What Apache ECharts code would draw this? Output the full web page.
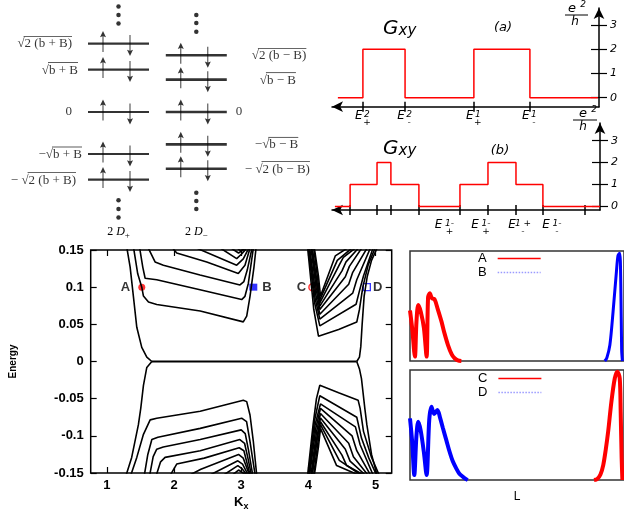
<!DOCTYPE html>
<html>
<head>
<meta charset="utf-8">
<script src="https://cdn.jsdelivr.net/npm/echarts@6.0.0/dist/echarts.min.js"></script>
<style>
  html, body { margin: 0; padding: 0; background: #fff; }
  #chart { width: 624px; height: 512px; }
</style>
</head>
<body>
<div id="chart"></div>
<script>
// ---- top left: Landau levels at the two Dirac points ----
const columns = ['2 D+', '2 D−']
const levelPlus = [1.63, 1.01, 0, -1.0, -1.61]
const levelMinus = [1.35, 0.77, 0, -0.77, -1.35]
const labelPlus = ['√2 (b + B)', '√b + B', '0', '−√b + B', '− √2 (b + B)']
const labelMinus = ['√2 (b − B)', '√b − B', '0', '−√b − B', '− √2 (b − B)']
const dotsPlus = [2.51, 2.31, 2.11, -2.10, -2.31, -2.51]
const dotsMinus = [2.31, 2.12, 1.91, -1.92, -2.12, -2.31]

// ---- top right: Gxy steps ----
const gxyAx = [0.40, 1.32, 2.87, 5.40, 7.46, 9.96]
const gxyAy = [0, 2, 0, 2, 0, 0]
const tickA = [1.32, 2.87, 5.40, 7.46]
const tickLabelA = [['2', '+'], ['2', '-'], ['1', '+'], ['1', '-']]
const gxyBx = [0.29, 0.85, 1.84, 2.35, 3.38, 4.89, 5.92, 6.95, 7.94, 10.04]
const gxyBy = [0, 1, 2, 1, 0, 1, 2, 1, 0, 0]
const tickB = [0.85, 1.84, 2.35, 3.38, 4.89, 5.92, 6.95, 7.94, 9.49]
const labelPosB = [4.36, 5.70, 7.06, 8.31]
const tickLabelB = [['1-', '+'], ['1-', '+'], ['1 +', '-'], ['1-', '-']]
const gTicks = [0, 1, 2, 3]

// ---- bottom left: energy bands vs Kx ----
const kxTicks = [1, 2, 3, 4, 5]
const edgeLUp = [[1.30, 0.152], [1.347, 0.127], [1.395, 0.088], [1.446, 0.046], [1.52, 0.019], [1.595, 0.006], [1.67, 0]]
const edgeLDown = [[1.67, 0], [1.595, -0.008], [1.545, -0.032], [1.505, -0.063], [1.47, -0.085], [1.37, -0.129], [1.28, -0.155]]
const zeroLine = [[1.67, 0], [4.72, 0]]
const c1 = [[1.40, 0.152], [1.46, 0.118], [1.52, 0.1], [1.545, 0.088], [1.62, 0.080], [1.743, 0.0767], [2.39, 0.068], [3.031, 0.0533], [3.082, 0.061], [3.131, 0.0877], [3.19, 0.127], [3.22, 0.152]]
const c2 = [[1.49, 0.152], [1.535, 0.127], [1.57, 0.112], [1.743, 0.110], [2.387, 0.0966], [3.007, 0.0833], [3.056, 0.0877], [3.106, 0.105], [3.18, 0.152]]
const c3 = [[1.62, 0.152], [1.718, 0.134], [1.842, 0.1296], [2.387, 0.1164], [2.982, 0.103], [3.04, 0.1075], [3.09, 0.123], [3.16, 0.152]]
const c4 = [[1.93, 0.158], [2.04, 0.146], [2.487, 0.134], [2.957, 0.1185], [3.056, 0.1296], [3.13, 0.152]]
const c5 = [[2.35, 0.152], [2.933, 0.1296], [3.031, 0.138], [3.11, 0.152]]
const c6 = [[2.70, 0.152], [2.933, 0.1384], [3.01, 0.145], [3.08, 0.152]]
const c7 = [[2.86, 0.152], [2.96, 0.146], [3.06, 0.152]]
const c8 = [[2.95, 0.152], [2.99, 0.149], [3.04, 0.152]]
const d1 = [[1.36, -0.152], [1.446, -0.129], [1.545, -0.098], [1.645, -0.0785], [1.743, -0.0763], [2.39, -0.067], [3.031, -0.052], [3.082, -0.054], [3.131, -0.072], [3.18, -0.107], [3.23, -0.152]]
const d2 = [[1.56, -0.152], [1.61, -0.125], [1.67, -0.105], [1.76, -0.102], [2.39, -0.09], [3.007, -0.0763], [3.08, -0.081], [3.13, -0.107], [3.206, -0.152]]
const d3 = [[1.64, -0.152], [1.69, -0.128], [1.743, -0.118], [1.84, -0.115], [2.39, -0.105], [3.00, -0.092], [3.06, -0.097], [3.11, -0.12], [3.17, -0.152]]
const d4 = [[1.74, -0.152], [1.80, -0.135], [1.867, -0.129], [2.39, -0.12], [2.98, -0.105], [3.05, -0.11], [3.10, -0.13], [3.15, -0.152]]
const d5 = [[1.95, -0.152], [2.04, -0.138], [2.45, -0.13], [2.97, -0.116], [3.04, -0.12], [3.13, -0.152]]
const d6 = [[2.25, -0.152], [2.40, -0.145], [2.96, -0.125], [3.03, -0.13], [3.12, -0.152]]
const d7 = [[2.55, -0.152], [2.95, -0.1336], [3.02, -0.138], [3.10, -0.152]]
const d8 = [[2.75, -0.152], [2.95, -0.140], [3.01, -0.144], [3.08, -0.152]]
const d9 = [[2.88, -0.152], [2.96, -0.146], [3.06, -0.152]]
const edgeRUp = [[4.72, 0], [4.76, 0.006], [4.78, 0.02], [4.80, 0.05], [4.83, 0.088], [4.875, 0.114], [4.94, 0.136], [5.02, 0.152]]
const edgeRDown = [[4.72, 0], [4.76, -0.01], [4.79, -0.023], [4.84, -0.063], [4.87, -0.085], [4.94, -0.125], [5.02, -0.152]]
const r1 = [[3.99, 0.152], [4.08, 0.07], [4.15, 0.034], [4.45, 0.043], [4.72, 0.053], [4.76, 0.07], [4.81, 0.1], [4.89, 0.13], [4.99, 0.152]]
const r2 = [[4.00, 0.152], [4.09, 0.08], [4.17, 0.048], [4.71, 0.077], [4.76, 0.095], [4.82, 0.115], [4.96, 0.152]]
const r3 = [[4.01, 0.152], [4.10, 0.085], [4.17, 0.057], [4.66, 0.092], [4.72, 0.11], [4.92, 0.152]]
const r4 = [[4.02, 0.152], [4.11, 0.09], [4.17, 0.0635], [4.60, 0.104], [4.66, 0.12], [4.87, 0.152]]
const r5 = [[4.04, 0.152], [4.12, 0.095], [4.17, 0.070], [4.55, 0.114], [4.61, 0.128], [4.79, 0.152]]
const r6 = [[4.05, 0.152], [4.13, 0.10], [4.17, 0.0745], [4.50, 0.122], [4.56, 0.134], [4.74, 0.152]]
const r7 = [[4.06, 0.152], [4.13, 0.105], [4.17, 0.079], [4.46, 0.13], [4.52, 0.14], [4.69, 0.152]]
const r8 = [[4.08, 0.152], [4.14, 0.11], [4.17, 0.083], [4.43, 0.136], [4.64, 0.152]]
const r9 = [[4.09, 0.152], [4.15, 0.115], [4.18, 0.088], [4.40, 0.142], [4.57, 0.152]]
const s1 = [[3.99, -0.152], [4.07, -0.085], [4.12, -0.05], [4.17, -0.032], [4.45, -0.042], [4.74, -0.052], [4.77, -0.063], [4.82, -0.094], [4.94, -0.129], [5.05, -0.152]]
const s2 = [[4.00, -0.152], [4.09, -0.08], [4.17, -0.046], [4.72, -0.075], [4.79, -0.103], [4.90, -0.13], [5.01, -0.152]]
const s3 = [[4.01, -0.152], [4.10, -0.085], [4.18, -0.057], [4.70, -0.088], [4.77, -0.112], [4.96, -0.152]]
const s4 = [[4.02, -0.152], [4.11, -0.09], [4.18, -0.063], [4.65, -0.10], [4.72, -0.12], [4.92, -0.152]]
const s5 = [[4.04, -0.152], [4.12, -0.095], [4.18, -0.070], [4.60, -0.11], [4.67, -0.128], [4.88, -0.152]]
const s6 = [[4.05, -0.152], [4.13, -0.10], [4.18, -0.076], [4.55, -0.118], [4.62, -0.134], [4.84, -0.152]]
const s7 = [[4.06, -0.152], [4.13, -0.105], [4.18, -0.081], [4.50, -0.126], [4.57, -0.14], [4.81, -0.152]]
const s8 = [[4.08, -0.152], [4.14, -0.11], [4.18, -0.085], [4.46, -0.133], [4.77, -0.152]]
const s9 = [[4.09, -0.152], [4.15, -0.115], [4.18, -0.09], [4.42, -0.14], [4.73, -0.152]]
const markerNames = ['A', 'B', 'C', 'D']
const markerK = [1.52, 3.18, 4.06, 4.87]
const markerE = [0.1, 0.1, 0.1, 0.1]

// ---- bottom right: wave function profiles along L ----
const waveA = [[0, 0.46], [2, 0.3], [4.6, 0.04], [6, 0.35], [7.7, 0.51], [10, 0.45], [13, 0.3], [15.5, 0.04], [16.9, 0.58], [18.5, 0.615], [20.5, 0.57], [23, 0.56], [26, 0.47], [29.4, 0.36], [32, 0.26], [35.5, 0.145], [39, 0.06], [41.7, 0.025], [44.7, 0.005], [48, 0]]
const waveB = [[182, 0], [184, 0.03], [186.8, 0.145], [189.8, 0.45], [192.9, 0.81], [194.4, 0.96], [196, 0.98], [197, 0.7], [197.8, 0.1], [198.5, 0]]
const waveC = [[172, 0], [175, 0.01], [178, 0.05], [180.6, 0.136], [183, 0.28], [185.2, 0.44], [188.2, 0.71], [191.4, 0.925], [193.8, 0.985], [196, 0.925], [196.9, 0.62], [197.8, 0.2], [198.5, 0]]
const waveD = [[0, 0.56], [2, 0.35], [4, 0.045], [6, 0.4], [7.7, 0.53], [10, 0.45], [13, 0.25], [15.5, 0.045], [18, 0.55], [20.1, 0.667], [22.5, 0.6], [25.6, 0.636], [28, 0.57], [30.8, 0.47], [34, 0.36], [37, 0.257], [40, 0.17], [43.2, 0.106], [46, 0.06], [49.4, 0.03], [52, 0.01], [54, 0]]

const SANS = 'Liberation Sans'
const VERA = 'DejaVu Sans'
const SERIF = 'Liberation Serif'
const LEVEL_FONT = 13

const measureCtx = document.createElement('canvas').getContext('2d')
const textWidth = (text) => {
  measureCtx.font = `${LEVEL_FONT}px "${SERIF}"`
  return measureCtx.measureText(text).width
}

// square-root label: overline drawn as a thin rich-text bar above the radicand
const levelLabel = (s, position, distance) => {
  const base = { show: true, position, distance, color: '#000' }
  const t = { fontFamily: SERIF, fontSize: LEVEL_FONT, lineHeight: 14, color: '#000' }
  const i = s.indexOf('√')
  if (i < 0) return { ...base, formatter: `{t|${s}}`, rich: { t } }
  const pre = s.slice(0, i + 1)
  const rad = s.slice(i + 1)
  return {
    ...base,
    formatter: `{gap|}{ov|}\n{t|${s}}`,
    rich: {
      gap: { width: textWidth(pre) - 1, height: 1, lineHeight: 1 },
      ov: { width: textWidth(rad) + 1, height: 0.8, lineHeight: 1, backgroundColor: '#000' },
      t,
    },
  }
}

const upArrow = 'path://M5,0 L10,9 L5.8,7.5 L5.8,30 L4.2,30 L4.2,7.5 L0,9 Z'

const gapPlus = [16, 10, 16, 6, 12]
const gapMinus = [25, 33, 9, 28, 18]

// E labels with a superscript and a subscript stacked after the E
const eRich = (w) => ({
  e: { fontFamily: VERA, fontStyle: 'italic', fontSize: 12, width: 8, lineHeight: 12, color: '#000' },
  p: { fontFamily: VERA, fontStyle: 'italic', fontSize: 9, width: w, lineHeight: 12, verticalAlign: 'top', color: '#000' },
  g: { width: 8, lineHeight: 2 },
  b: { fontFamily: VERA, fontStyle: 'italic', fontSize: 9, width: w, lineHeight: 2, color: '#000' },
})
const eLabel = (sup, sub) => `{e|E}{p|${sup}}\n{g|}{b|${sub}}`
const pickLabel = (vals, labels) => (v) => {
  const i = vals.findIndex((t) => Math.abs(t - v) < 1e-6)
  return i < 0 ? '' : eLabel(labels[i][0], labels[i][1])
}

const gAxisY = (grid, min, max, width) => [
  {
    gridIndex: grid, type: 'value', position: 'right', min, max,
    axisLine: { show: true, onZero: false, symbol: ['none', 'arrow'], symbolSize: [8, 11], lineStyle: { color: '#000', width: 1.5 } },
    axisTick: { show: true, customValues: gTicks, length: 8, lineStyle: { color: '#000', width: 1.2 } },
    axisLabel: { show: true, customValues: gTicks, margin: 11, fontFamily: VERA, fontStyle: 'italic', fontSize: 11, color: '#000' },
    splitLine: { show: false },
  },
  {
    gridIndex: grid, type: 'value', position: 'left', offset: -width, min, max,
    axisLine: { show: false, onZero: false },
    axisTick: { show: true, customValues: gTicks, length: 8, lineStyle: { color: '#000', width: 1.2 } },
    axisLabel: { show: false }, splitLine: { show: false },
  },
]

const gAxisX = (grid, max, height, ticks, labelVals, labels, margin, supWidth) => [
  {
    gridIndex: grid, type: 'value', position: 'bottom', min: 0.184, max,
    axisLine: { show: true, onZero: false, symbol: ['arrow', 'none'], symbolSize: [8, 11], lineStyle: { color: '#000', width: 1.5 } },
    axisTick: { show: true, customValues: ticks, length: 5, lineStyle: { color: '#000', width: 1.5 } },
    axisLabel: { show: true, customValues: labelVals, margin, formatter: pickLabel(labelVals, labels), rich: eRich(supWidth) },
    splitLine: { show: false },
  },
  {
    gridIndex: grid, type: 'value', position: 'top', offset: -height, min: 0.184, max,
    axisLine: { show: false, onZero: false },
    axisTick: { show: true, customValues: ticks, length: 5, lineStyle: { color: '#000', width: 1.5 } },
    axisLabel: { show: false }, splitLine: { show: false },
  },
]

const bandCurves = [edgeLUp, edgeLDown, c1, c2, c3, c4, c5, c6, c7, c8, d1, d2, d3, d4, d5, d6, d7, d8, d9,
  edgeRUp, edgeRDown, r1, r2, r3, r4, r5, r6, r7, r8, r9, s1, s2, s3, s4, s5, s6, s7, s8, s9]

const markerStyle = [
  { symbol: 'circle', symbolSize: 7, itemStyle: { color: '#ff0000' }, pos: 'left', dist: 8 },
  { symbol: 'rect', symbolSize: [8, 7], itemStyle: { color: '#0000ff' }, pos: 'right', dist: 5 },
  { symbol: 'circle', symbolSize: 7, itemStyle: { color: '#fff', borderColor: '#ff0000', borderWidth: 1.5 }, pos: 'left', dist: 2 },
  { symbol: 'rect', symbolSize: [7, 7], itemStyle: { color: '#fff', borderColor: '#0000ff', borderWidth: 1.3 }, pos: 'right', dist: 2 },
]

const series = [
  // Landau levels
  {
    type: 'scatter', xAxisIndex: 0, yAxisIndex: 0, symbol: 'rect', symbolSize: [61, 2.2],
    itemStyle: { color: '#000' },
    data: levelPlus.map((e, i) => ({ value: [0, e], label: levelLabel(labelPlus[i], 'left', gapPlus[i]) })),
  },
  {
    type: 'scatter', xAxisIndex: 0, yAxisIndex: 0, symbol: 'rect', symbolSize: [61, 2.6],
    itemStyle: { color: '#000' },
    data: levelMinus.map((e, i) => ({ value: [1, e], label: levelLabel(labelMinus[i], 'right', gapMinus[i]) })),
  },
  {
    type: 'scatter', xAxisIndex: 0, yAxisIndex: 0, symbol: upArrow, symbolSize: [6, 21], symbolOffset: [-15.5, -2],
    itemStyle: { color: '#000' },
    data: levelPlus.map((e) => [0, e]).concat(levelMinus.map((e) => [1, e])),
  },
  {
    type: 'scatter', xAxisIndex: 0, yAxisIndex: 0, symbol: upArrow, symbolSize: [6, 21], symbolRotate: 180, symbolOffset: [11.5, 2],
    itemStyle: { color: '#000' },
    data: levelPlus.map((e) => [0, e]).concat(levelMinus.map((e) => [1, e])),
  },
  {
    type: 'scatter', xAxisIndex: 0, yAxisIndex: 0, symbol: 'circle', symbolSize: 4.5,
    itemStyle: { color: '#000' },
    data: dotsPlus.map((e) => [0, e]).concat(dotsMinus.map((e) => [1, e])),
  },
  // Gxy steps
  {
    type: 'line', xAxisIndex: 1, yAxisIndex: 1, step: 'end', symbol: 'none',
    lineStyle: { color: '#ff0000', width: 1.5 },
    data: gxyAx.map((x, i) => [x, gxyAy[i]]),
  },
  {
    type: 'line', xAxisIndex: 3, yAxisIndex: 3, step: 'end', symbol: 'none',
    lineStyle: { color: '#ff0000', width: 1.5 },
    data: gxyBx.map((x, i) => [x, gxyBy[i]]),
  },
  // bands
  ...bandCurves.map((d) => ({
    type: 'line', xAxisIndex: 5, yAxisIndex: 5, symbol: 'none', clip: true,
    lineStyle: { color: '#000', width: 1.6 }, data: d,
  })),
  {
    type: 'line', xAxisIndex: 5, yAxisIndex: 5, symbol: 'none',
    lineStyle: { color: '#000', width: 2.2 }, data: zeroLine,
  },
  ...markerNames.map((name, i) => ({
    type: 'scatter', xAxisIndex: 5, yAxisIndex: 5, name: 'mark' + name,
    symbol: markerStyle[i].symbol, symbolSize: markerStyle[i].symbolSize, itemStyle: markerStyle[i].itemStyle,
    label: { show: true, position: markerStyle[i].pos, distance: markerStyle[i].dist, formatter: name, fontFamily: SANS, fontWeight: 'bold', fontSize: 13, color: '#000' },
    data: [[markerK[i], markerE[i]]],
  })),
  // wave functions
  { type: 'line', name: 'A', xAxisIndex: 7, yAxisIndex: 7, symbol: 'none', smooth: 0.3, lineStyle: { color: '#ff0000', width: 4 }, itemStyle: { color: '#ff0000' }, data: waveA },
  { type: 'line', name: 'B', xAxisIndex: 7, yAxisIndex: 7, symbol: 'none', smooth: 0.3, lineStyle: { color: '#0000ff', width: 3 }, itemStyle: { color: '#0000ff' }, data: waveB },
  { type: 'line', name: 'C', xAxisIndex: 8, yAxisIndex: 8, symbol: 'none', smooth: 0.3, lineStyle: { color: '#ff0000', width: 4 }, itemStyle: { color: '#ff0000' }, data: waveC },
  { type: 'line', name: 'D', xAxisIndex: 8, yAxisIndex: 8, symbol: 'none', smooth: 0.3, lineStyle: { color: '#0000ff', width: 4 }, itemStyle: { color: '#0000ff' }, data: waveD },
]

const legendBase = {
  orient: 'vertical', align: 'right', itemWidth: 43, itemHeight: 10, itemGap: 1, padding: 0,
  textStyle: { fontFamily: SANS, fontSize: 13, color: '#000', padding: [0, 6, 0, 0] },
  itemStyle: { opacity: 0 },
  selectedMode: false,
}
const redKey = { itemStyle: { opacity: 0 }, lineStyle: { color: '#ff0000', width: 1.5, type: 'solid' } }
const blueKey = { itemStyle: { opacity: 0 }, lineStyle: { color: '#9a9aff', width: 1.5, type: 'dotted' } }

const gxyTitle = {
  text: '{g|G}{s|xy}', verticalAlign: 'middle',
  rich: {
    g: { fontFamily: VERA, fontStyle: 'italic', fontSize: 20, lineHeight: 22, verticalAlign: 'bottom', fill: '#000' },
    s: { fontFamily: VERA, fontStyle: 'italic', fontSize: 15, lineHeight: 22, verticalAlign: 'bottom', fill: '#000' },
  },
}
const italic = (text, size) => ({ text, fontFamily: VERA, fontStyle: 'italic', fontSize: size, fill: '#000', align: 'center', verticalAlign: 'middle' })

const option = {
  animation: false,
  backgroundColor: '#fff',
  grid: [
    { left: 79.6, top: 0, width: 155.6, height: 218 },
    { left: 332, top: 8, width: 267, height: 98.7 },
    { left: 332, top: 123, width: 268, height: 87 },
    { left: 90.7, top: 250, width: 301, height: 227.5, show: true, borderColor: '#000', borderWidth: 1.5 },
    { left: 410, top: 251, width: 216, height: 110, show: true, borderColor: '#333', borderWidth: 1.5 },
    { left: 410, top: 370, width: 216, height: 110, show: true, borderColor: '#333', borderWidth: 1.5 },
  ],
  xAxis: [
    {
      gridIndex: 0, type: 'category', data: columns, boundaryGap: true,
      axisLine: { show: false }, axisTick: { show: false },
      axisLabel: {
        margin: 5, interval: 0,
        formatter: (v) => `{n|2 }{d|D}{s|${v.slice(-1)}}`,
        rich: {
          n: { fontFamily: SERIF, fontSize: 12, color: '#000' },
          d: { fontFamily: SERIF, fontStyle: 'italic', fontSize: 12, color: '#000' },
          s: { fontFamily: SERIF, fontSize: 9, color: '#000', verticalAlign: 'bottom', lineHeight: 17 },
        },
      },
    },
    ...gAxisX(1, 10, 98.7, tickA, tickA, tickLabelA, 3, 8),
    ...gAxisX(2, 10.04, 87, tickB, labelPosB, tickLabelB, 9, 14),
    {
      gridIndex: 3, type: 'value', min: 0.76, max: 5.24, position: 'bottom',
      axisLine: { show: false, onZero: false },
      axisTick: { show: true, inside: true, length: 6, customValues: kxTicks, lineStyle: { color: '#000', width: 1.2 } },
      axisLabel: { show: true, customValues: kxTicks, margin: 6, fontFamily: SANS, fontWeight: 'bold', fontSize: 13, color: '#000' },
      splitLine: { show: false },
      name: '{k|K}{x|x}', nameLocation: 'middle', nameGap: 20,
      nameTextStyle: {
        rich: {
          k: { fontFamily: SANS, fontWeight: 'bold', fontSize: 13, color: '#000' },
          x: { fontFamily: SANS, fontWeight: 'bold', fontSize: 9, color: '#000', verticalAlign: 'bottom', lineHeight: 18 },
        },
      },
    },
    {
      gridIndex: 3, type: 'value', min: 0.76, max: 5.24, position: 'top',
      axisLine: { show: false, onZero: false },
      axisTick: { show: true, inside: true, length: 6, customValues: kxTicks, lineStyle: { color: '#000', width: 1.2 } },
      axisLabel: { show: false }, splitLine: { show: false },
    },
    { gridIndex: 4, type: 'value', min: 0, max: 200, show: false },
    {
      gridIndex: 5, type: 'value', min: 0, max: 200,
      axisLine: { show: false, onZero: false }, axisTick: { show: false }, axisLabel: { show: false }, splitLine: { show: false },
      name: 'L', nameLocation: 'middle', nameGap: 11,
      nameTextStyle: { fontFamily: SANS, fontSize: 12, color: '#000' },
    },
  ],
  yAxis: [
    { gridIndex: 0, type: 'value', min: -2.524, max: 2.667, show: false },
    ...gAxisY(1, -0.371, 3.702, 267),
    ...gAxisY(2, -0.164, 3.808, 268),
    {
      gridIndex: 3, type: 'value', min: -0.15, max: 0.15, interval: 0.05, position: 'left',
      axisLine: { show: false, onZero: false },
      axisTick: { show: true, inside: true, length: 6, lineStyle: { color: '#000', width: 1.2 } },
      axisLabel: { margin: 7, fontFamily: SANS, fontWeight: 'bold', fontSize: 13, color: '#000', formatter: (v) => String(+v.toFixed(2)) },
      splitLine: { show: false },
      name: 'Energy', nameLocation: 'middle', nameRotate: 90, nameGap: 72,
      nameTextStyle: { fontFamily: SANS, fontWeight: 'bold', fontSize: 10, color: '#000' },
    },
    {
      gridIndex: 3, type: 'value', min: -0.15, max: 0.15, interval: 0.05, position: 'right',
      axisLine: { show: false, onZero: false },
      axisTick: { show: true, inside: true, length: 6, lineStyle: { color: '#000', width: 1.2 } },
      axisLabel: { show: false }, splitLine: { show: false },
    },
    { gridIndex: 4, type: 'value', min: 0, max: 1, show: false },
    { gridIndex: 5, type: 'value', min: 0, max: 1, show: false },
  ],
  legend: [
    { ...legendBase, left: 478, top: 252, data: [{ name: 'A', ...redKey }, { name: 'B', ...blueKey }] },
    { ...legendBase, left: 478, top: 372, data: [{ name: 'C', ...redKey }, { name: 'D', ...blueKey }] },
  ],
  graphic: [
    { type: 'text', x: 383, y: 28, style: gxyTitle },
    { type: 'text', x: 503, y: 28, style: italic('(a)', 13) },
    { type: 'text', x: 383, y: 148, style: gxyTitle },
    { type: 'text', x: 500, y: 151, style: italic('(b)', 13) },
    // e^2/h unit, panel (a)
    { type: 'text', x: 572, y: 9, style: italic('e', 13) },
    { type: 'text', x: 583, y: 5, style: italic('2', 9) },
    { type: 'line', shape: { x1: 565, y1: 15, x2: 588, y2: 15 }, style: { stroke: '#000', lineWidth: 1 } },
    { type: 'text', x: 575, y: 22, style: italic('h', 12) },
    // e^2/h unit, panel (b)
    { type: 'text', x: 583, y: 114, style: italic('e', 13) },
    { type: 'text', x: 594, y: 110, style: italic('2', 9) },
    { type: 'line', shape: { x1: 573, y1: 120, x2: 597, y2: 120 }, style: { stroke: '#000', lineWidth: 1 } },
    { type: 'text', x: 583, y: 127, style: italic('h', 12) },
  ],
  series,
}

const chart = echarts.init(document.getElementById('chart'))
chart.setOption(option)
</script>
</body>
</html>
